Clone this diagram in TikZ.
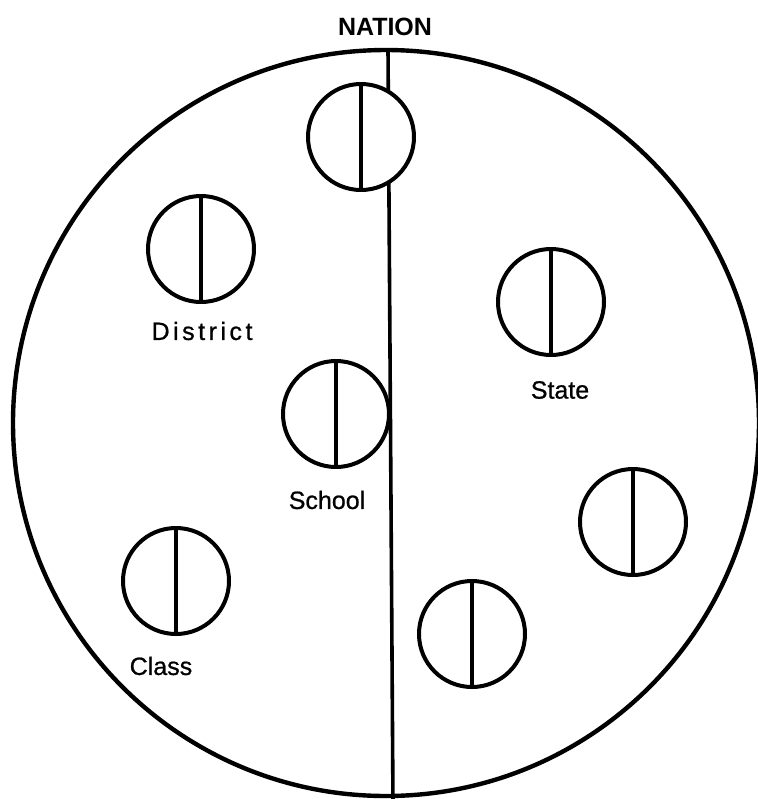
\documentclass[tikz,border=0pt]{standalone}
\usepackage{fontspec}
\setmainfont{Liberation Sans}
\usetikzlibrary{positioning}

\begin{document}
\begin{tikzpicture}[x=0.5pt, y=-0.5pt,
    ring/.style={circle, draw, line width=2pt, fill=white, minimum size=53pt, inner sep=0pt},
    divider/.style={line width=1.8pt},
    tag/.style={font=\fontsize{12.5}{14}\selectfont\addfontfeature{FakeBold=0.8}, inner sep=0pt}]
  \useasboundingbox (0,0) rectangle (757,799);
  % nation: the big circle and the line that splits it
  \draw[line width=2.2pt] (386,423) circle (373);
  \coordinate (splittop) at (388,49);
  \coordinate (splitbot) at (393,805);
  \draw[divider] (splittop) -- (splitbot);
  % small circles
  \node[ring] (apex) at (361,137) {};
  \node[ring] (district) at (201,249) {};
  \node[ring] (school) at (336,414) {};
  \node[ring] (class) at (176,581) {};
  \node[ring] (state) at (551,302) {};
  \node[ring] (stateb) at (633,522) {};
  \node[ring] (statec) at (472,634) {};
  \foreach \c in {apex, district, school, class, state, stateb, statec}
    \draw[divider] (\c.north) -- (\c.south);
  % labels
  \node[tag, font=\bfseries\fontsize{12.5}{14}\selectfont] (nationlbl) at (385,27) {NATION};
  \node[tag] (districtlbl) at (202,331) {\addfontfeature{LetterSpace=14}District};
  \node[tag] (schoollbl) at (327,500) {School};
  \node[tag] (classlbl) at (161,666) {Class};
  \node[tag] (statelbl) at (560,390) {State};
\end{tikzpicture}
\end{document}
